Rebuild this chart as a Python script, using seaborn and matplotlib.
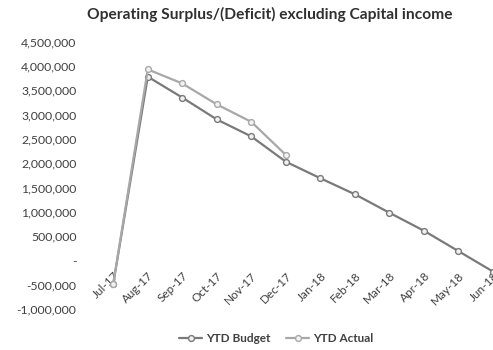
import numpy as np
import pandas as pd
import matplotlib
matplotlib.use("Agg")
import matplotlib.pyplot as plt
import seaborn as sns
from matplotlib.ticker import FuncFormatter

months = ['Jul-17', 'Aug-17', 'Sep-17', 'Oct-17', 'Nov-17', 'Dec-17',
          'Jan-18', 'Feb-18', 'Mar-18', 'Apr-18', 'May-18', 'Jun-18']
ytd_budget = [-480000, 3780000, 3350000, 2900000, 2550000, 2030000,
              1690000, 1360000, 980000, 610000, 190000, -230000]
ytd_actual = [-480000, 3930000, 3640000, 3210000, 2850000, 2170000,
              np.nan, np.nan, np.nan, np.nan, np.nan, np.nan]
series_names = ['YTD Budget', 'YTD Actual']
y_ticks = [-1000000, -500000, 0, 500000, 1000000, 1500000, 2000000,
           2500000, 3000000, 3500000, 4000000, 4500000]

df = pd.DataFrame({
    'Month': months * 2,
    'pos': list(range(len(months))) * 2,
    'Value': ytd_budget + ytd_actual,
    'Series': [series_names[0]] * len(months) + [series_names[1]] * len(months),
})

sns.set_theme(style="white")
plt.rcParams['font.family'] = ['Lato', 'DejaVu Sans']

fig = plt.figure(figsize=(4.93, 3.5), dpi=100)
ax = fig.add_axes([96 / 493, (350 - 309) / 350, 1 - 96 / 493, (309 - 41.7) / 350])

palette = {series_names[0]: '#7a7a7a', series_names[1]: '#a8a8a8'}
sns.lineplot(data=df, x='pos', y='Value', hue='Series', palette=palette,
             marker='o', markersize=4.2, markerfacecolor='#f2f2f2',
             markeredgewidth=1.0, linewidth=1.6, ax=ax, legend=True,
             sort=False)
for line in ax.lines:
    line.set_markeredgecolor(line.get_color())

ax.set_xlim(-0.5, 11.0)
ax.set_ylim(-1000000, 4500000)
ax.set_yticks(y_ticks)

def fmt(v, p):
    if v == 0:
        return '-'
    return f'{int(v):,}'
ax.yaxis.set_major_formatter(FuncFormatter(fmt))

ax.set_xticks(range(len(months)))
ax.set_xticklabels(months)
ax.spines['bottom'].set_position(('data', 0))
for s in ax.spines.values():
    s.set_visible(False)
ax.tick_params(axis='both', length=0, labelsize=8.8, colors='#404040')
ax.tick_params(axis='y', pad=14)
ax.tick_params(axis='x', pad=7, labelrotation=45, labelsize=8.5)
for lbl in ax.get_xticklabels():
    lbl.set_ha('right')
    lbl.set_rotation_mode('anchor')
ax.set_xlabel('')
ax.set_ylabel('')
ax.grid(False)

leg = ax.legend(loc='lower center', bbox_to_anchor=((276 - 96) / 397, -0.17),
                ncol=2, frameon=False, fontsize=8.5, handlelength=2.0,
                handletextpad=0.3, columnspacing=1.3)
for t in leg.get_texts():
    t.set_color('#404040')
    t.set_fontweight('bold')

fig.text(270 / 493, 1 - 14 / 350, 'Operating Surplus/(Deficit) excluding Capital income',
         ha='center', va='center', fontsize=11.2, fontweight='bold', color='#303030')

fig.savefig('out.png', dpi=100)
